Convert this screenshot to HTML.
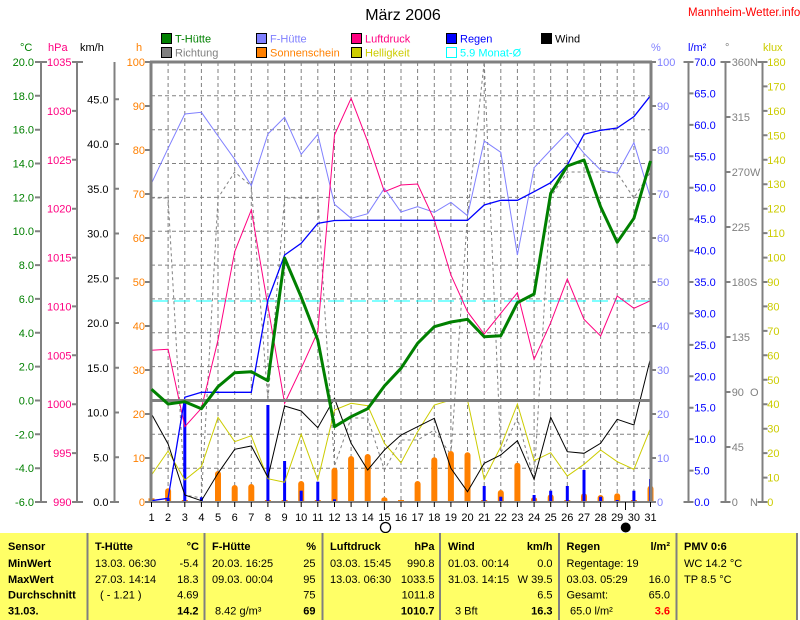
<!DOCTYPE html>
<html><head><meta charset="utf-8"><style>
html,body{margin:0;padding:0;background:#fff;}
svg{display:block;font-family:"Liberation Sans",sans-serif;}
</style></head><body>
<svg width="800" height="620" viewBox="0 0 800 620" xmlns="http://www.w3.org/2000/svg">
<rect x="0" y="0" width="800" height="620" fill="#fff"/>

<!-- Title -->
<text x="403" y="20" font-size="16" text-anchor="middle" fill="#000">März 2006</text>
<text x="688" y="16" font-size="11.5" fill="#ff0000">Mannheim-Wetter.info</text>

<!-- Legend -->
<g font-size="11">
<rect x="161.5" y="33.5" width="10" height="10" fill="#008000" stroke="#000"/>
<text x="175" y="42.5" fill="#008000">T-Hütte</text>
<rect x="256.5" y="33.5" width="10" height="10" fill="#8080ff" stroke="#000"/>
<text x="270" y="42.5" fill="#8080ff">F-Hütte</text>
<rect x="351.5" y="33.5" width="10" height="10" fill="#ff0080" stroke="#000"/>
<text x="365" y="42.5" fill="#ff0080">Luftdruck</text>
<rect x="446.5" y="33.5" width="10" height="10" fill="#0000ff" stroke="#000"/>
<text x="460" y="42.5" fill="#0000ff">Regen</text>
<rect x="541.5" y="33.5" width="10" height="10" fill="#000" stroke="#000"/>
<text x="555" y="42.5" fill="#000">Wind</text>
<rect x="161.5" y="47.5" width="10" height="10" fill="#808080" stroke="#000"/>
<text x="175" y="56.5" fill="#808080">Richtung</text>
<rect x="256.5" y="47.5" width="10" height="10" fill="#ff8000" stroke="#000"/>
<text x="270" y="56.5" fill="#ff8000">Sonnenschein</text>
<rect x="351.5" y="47.5" width="10" height="10" fill="#cccc00" stroke="#000"/>
<text x="365" y="56.5" fill="#cccc00">Helligkeit</text>
<rect x="446.5" y="47.5" width="10" height="10" fill="none" stroke="#00ffff"/>
<text x="460" y="56.5" fill="#00ffff">5.9 Monat-Ø</text>
</g>

<!-- Unit labels -->
<g font-size="11">
<text x="20" y="51" fill="#008000">°C</text>
<text x="48" y="51" fill="#ff0080">hPa</text>
<text x="80" y="51" fill="#000">km/h</text>
<text x="136" y="51" fill="#ff8000">h</text>
<text x="651" y="51" fill="#8080ff">%</text>
<text x="688" y="51" fill="#0000ff">l/m²</text>
<text x="725" y="51" fill="#808080">°</text>
<text x="763" y="51" fill="#cccc00">klux</text>
</g>

<!-- Grid -->
<g stroke="#808080" stroke-width="1" stroke-dasharray="4,3" fill="none">
<path d="M168.1 62V502M184.8 62V502M201.4 62V502M218 62V502M234.7 62V502M251.3 62V502M267.9 62V502M284.6 62V502M301.2 62V502M317.8 62V502M334.5 62V502M351.1 62V502M367.7 62V502M384.4 62V502M401 62V502M417.6 62V502M434.3 62V502M450.9 62V502M467.5 62V502M484.2 62V502M500.8 62V502M517.4 62V502M534.1 62V502M550.7 62V502M567.3 62V502M584 62V502M600.6 62V502M617.2 62V502M633.9 62V502"/>
<path d="M151 95.8H651M151 129.7H651M151 163.5H651M151 197.4H651M151 231.2H651M151 265.1H651M151 298.9H651M151 332.8H651M151 366.6H651M151 434.3H651M151 468.2H651"/>
</g>

<!-- Monat average line -->
<line x1="152" y1="301" x2="650" y2="301" stroke="#00ffff" stroke-width="1" stroke-dasharray="16,6"/>

<!-- Richtung -->
<polyline fill="none" stroke="#808080" stroke-width="1" stroke-dasharray="3,3" points="151.5,198 168.1,198 184.8,495 201.4,498 218,198 234.7,172 251.3,186 267.9,400 284.6,198 301.2,198 317.8,198 334.5,466 351.1,418 367.7,418 384.4,470 401,440 417.6,440 434.3,430 450.9,455 467.5,215 484.2,62 500.8,453 517.4,418 534.1,480 550.7,197 567.3,172 584,172 600.6,172 617.2,173 633.9,198 650.5,172"/>

<!-- Sonnenschein bars -->
<g fill="#ff8000">
<rect x="148.5" y="498.3" width="6" height="3.7"/>
<path d="M165.1 502V491.3A3 3 0 0 1 171.1 491.3V502Z"/>
<rect x="181.8" y="500" width="6" height="2"/>
<path d="M215 502V474A3 3 0 0 1 221 474V502Z"/>
<path d="M231.7 502V488A3 3 0 0 1 237.7 488V502Z"/>
<path d="M248.3 502V487A3 3 0 0 1 254.3 487V502Z"/>
<rect x="264.9" y="500" width="6" height="2"/>
<rect x="281.6" y="500" width="6" height="2"/>
<path d="M298.2 502V484A3 3 0 0 1 304.2 484V502Z"/>
<rect x="314.8" y="500" width="6" height="2"/>
<path d="M331.5 502V470.7A3 3 0 0 1 337.5 470.7V502Z"/>
<path d="M348.1 502V459A3 3 0 0 1 354.1 459V502Z"/>
<path d="M364.7 502V457A3 3 0 0 1 370.7 457V502Z"/>
<path d="M381.4 502V499.3A3 2 0 0 1 387.4 499.3V502Z"/>
<rect x="398" y="500" width="6" height="2"/>
<path d="M414.6 502V484A3 3 0 0 1 420.6 484V502Z"/>
<path d="M431.3 502V460.3A3 3 0 0 1 437.3 460.3V502Z"/>
<path d="M447.9 502V454A3 3 0 0 1 453.9 454V502Z"/>
<path d="M464.5 502V455.3A3 3 0 0 1 470.5 455.3V502Z"/>
<rect x="481.2" y="500" width="6" height="2"/>
<path d="M497.8 502V493A3 3 0 0 1 503.8 493V502Z"/>
<path d="M514.4 502V465.7A3 3 0 0 1 520.4 465.7V502Z"/>
<path d="M531.1 502V499.3A3 2 0 0 1 537.1 499.3V502Z"/>
<path d="M547.7 502V497.3A3 3 0 0 1 553.7 497.3V502Z"/>
<rect x="564.3" y="500" width="6" height="2"/>
<path d="M581 502V496.3A3 3 0 0 1 587 496.3V502Z"/>
<path d="M597.6 502V498A3 3 0 0 1 603.6 498V502Z"/>
<path d="M614.2 502V496.3A3 3 0 0 1 620.2 496.3V502Z"/>
<rect x="630.9" y="500" width="6" height="2"/>
<path d="M647.5 502V488.7A3 3 0 0 1 653.5 488.7V502Z"/>
</g>

<!-- Regen bars -->
<g fill="#0000ff">
<rect x="166.6" y="498" width="3" height="4"/>
<rect x="183.3" y="403.3" width="3" height="98.7"/>
<rect x="199.9" y="497.3" width="3" height="4.7"/>
<rect x="266.4" y="405" width="3" height="97"/>
<rect x="283.1" y="461" width="3" height="41"/>
<rect x="299.7" y="490.7" width="3" height="11.3"/>
<rect x="316.3" y="481.7" width="3" height="20.3"/>
<rect x="333" y="499.3" width="3" height="2.7"/>
<rect x="482.7" y="486" width="3" height="16"/>
<rect x="499.3" y="496.7" width="3" height="5.3"/>
<rect x="532.6" y="495" width="3" height="7"/>
<rect x="549.2" y="490.7" width="3" height="11.3"/>
<rect x="565.8" y="486" width="3" height="16"/>
<rect x="582.5" y="470" width="3" height="32"/>
<rect x="599.1" y="496.7" width="3" height="5.3"/>
<rect x="615.7" y="500" width="3" height="2"/>
<rect x="632.4" y="490.7" width="3" height="11.3"/>
<rect x="649" y="479" width="3" height="23"/>
</g>

<!-- Helligkeit -->
<polyline fill="none" stroke="#cccc00" stroke-width="1" points="151.5,475 168.1,451 184.8,480 201.4,466.7 218,417.3 234.7,441.7 251.3,435.7 267.9,478.7 284.6,482.3 301.2,434.3 317.8,480 334.5,410 351.1,403.3 367.7,405.7 384.4,443.3 401,462.7 417.6,431.7 434.3,405 450.9,400 467.5,400 484.2,479.3 500.8,446.7 517.4,404 534.1,460.7 550.7,452.7 567.3,476 584,464.3 600.6,450 617.2,461.7 633.9,469.3 650.5,428.3"/>

<!-- Wind -->
<polyline fill="none" stroke="#000" stroke-width="1" points="151.5,414 168.1,444 184.8,495 201.4,500.7 218,473.3 234.7,449.3 251.3,446 267.9,477.3 284.6,406 301.2,411 317.8,427.7 334.5,398.3 351.1,443.3 367.7,470 384.4,450 401,435 417.6,426.7 434.3,418.3 450.9,468.3 467.5,491.7 484.2,463.3 500.8,455 517.4,440.7 534.1,479.3 550.7,417.3 567.3,451.7 584,453.3 600.6,443.3 617.2,419.3 633.9,425 650.5,358.3"/>

<!-- F-Hütte -->
<polyline fill="none" stroke="#8080ff" stroke-width="1" points="151.5,183.3 168.1,148.3 184.8,114 201.4,112.3 218,136 234.7,159.3 251.3,185.7 267.9,134 284.6,117.3 301.2,154.3 317.8,134.3 334.5,204.3 351.1,218.3 367.7,213.7 384.4,188.3 401,212 417.6,206.7 434.3,212.3 450.9,202.3 467.5,215.7 484.2,141 500.8,152.3 517.4,255 534.1,167.7 550.7,150 567.3,132.7 584,153.3 600.6,170 617.2,173.3 633.9,142.7 650.5,197.7"/>

<!-- Luftdruck -->
<polyline fill="none" stroke="#ff0080" stroke-width="1" points="151.5,350.3 168.1,349.3 184.8,426.7 201.4,408.3 218,340 234.7,251.7 251.3,210 267.9,306 284.6,403.3 301.2,368.3 317.8,331.7 334.5,135 351.1,98.3 367.7,141.7 384.4,191.7 401,185 417.6,184 434.3,220 450.9,275 467.5,311.7 484.2,334 500.8,313.3 517.4,292.7 534.1,359.3 550.7,322.7 567.3,279 584,319.3 600.6,336 617.2,296 633.9,308.3 650.5,300.7"/>

<!-- Regen cumulative -->
<polyline fill="none" stroke="#0000ff" stroke-width="1.3" points="151.5,500.7 168.1,498.3 184.8,397.3 201.4,392.3 218,392.3 234.7,392.3 251.3,392.3 267.9,300 284.6,255 301.2,243.3 317.8,223.3 334.5,220.5 351.1,220.3 367.7,220.3 384.4,220.3 401,220.3 417.6,220.3 434.3,220.3 450.9,220.3 467.5,220.3 484.2,205 500.8,200.3 517.4,200.3 534.1,191.7 550.7,182.7 567.3,165 584,134.3 600.6,130.3 617.2,128 633.9,116.7 650.5,95.7"/>

<!-- Plot frame -->
<g stroke="#808080" fill="none">
<path d="M151 61V503" stroke-width="3"/>
<path d="M651 61V503" stroke-width="3"/>
<path d="M150 62H652" stroke-width="3"/>
<path d="M151 400.5H651" stroke-width="3"/>
<path d="M151 502H651" stroke-width="2"/>
</g>

<!-- T-Hütte -->
<polyline fill="none" stroke="#008000" stroke-width="3" stroke-linejoin="round" points="151.5,389.3 168.1,404 184.8,401.7 201.4,408.7 218,386.7 234.7,372.7 251.3,371.7 267.9,380.7 284.6,258 301.2,297 317.8,340 334.5,426.7 351.1,416.7 367.7,408.7 384.4,386 401,368.3 417.6,343.3 434.3,326.7 450.9,322 467.5,319.3 484.2,336.7 500.8,335.7 517.4,302.7 534.1,294 550.7,193.3 567.3,166 584,160 600.6,206.7 617.2,242.3 633.9,218.3 650.5,161"/>

<!-- Axes -->
<g stroke="#808080" stroke-width="2" fill="none">
<path d="M41 62V502M35 62H47M35 95.8H41M35 129.7H41M35 163.5H41M35 197.4H41M35 231.2H41M35 265.1H41M35 298.9H41M35 332.8H41M35 366.6H41M35 400.5H41M35 434.3H41M35 468.2H41M35 502H47"/>
<path d="M77 62V502M72 62H83M72 110.9H77M72 159.8H77M72 208.7H77M72 257.6H77M72 306.4H77M72 355.3H77M72 404.2H77M72 453.1H77M72 502H83"/>
<path d="M114.5 62V502M110 502H119M114.5 457.3H119M114.5 412.5H119M114.5 367.8H119M114.5 323H119M114.5 278.3H119M114.5 233.5H119M114.5 188.8H119M114.5 144H119M114.5 99.3H119"/>
<path d="M145 62H151M145 106H151M145 150H151M145 194H151M145 238H151M145 282H151M145 326H151M145 370H151M145 414H151M145 458H151M145 502H151"/>
<path d="M651 62H656M651 106H656M651 150H656M651 194H656M651 238H656M651 282H656M651 326H656M651 370H656M651 414H656M651 458H656M651 502H656"/>
<path d="M688.5 62V502M683.5 62H693.5M688.5 93.4H693.5M688.5 124.9H693.5M688.5 156.3H693.5M688.5 187.7H693.5M688.5 219.1H693.5M688.5 250.6H693.5M688.5 282H693.5M688.5 313.4H693.5M688.5 344.9H693.5M688.5 376.3H693.5M688.5 407.7H693.5M688.5 439.1H693.5M688.5 470.6H693.5M683.5 502H693.5"/>
<path d="M725.5 62V502M720.5 62H730.5M725.5 117H730.5M725.5 172H730.5M725.5 227H730.5M725.5 282H730.5M725.5 337H730.5M725.5 392H730.5M725.5 447H730.5M720.5 502H730.5"/>
<path d="M762.5 62V502M757.5 62H767.5M762.5 86.4H767.5M762.5 110.9H767.5M762.5 135.3H767.5M762.5 159.8H767.5M762.5 184.2H767.5M762.5 208.7H767.5M762.5 233.1H767.5M762.5 257.6H767.5M762.5 282H767.5M762.5 306.4H767.5M762.5 330.9H767.5M762.5 355.3H767.5M762.5 379.8H767.5M762.5 404.2H767.5M762.5 428.7H767.5M762.5 453.1H767.5M762.5 477.6H767.5M757.5 502H767.5"/>
</g>

<!-- Day ticks -->
<g stroke="#000" stroke-width="1">
<path d="M151.5 502V507M168.1 502V507M184.8 502V507M201.4 502V507M218 502V507M234.7 502V507M251.3 502V507M267.9 502V507M284.6 502V507M301.2 502V507M317.8 502V507M334.5 502V507M351.1 502V507M367.7 502V507M384.4 502V510M401 502V507M417.6 502V507M434.3 502V507M450.9 502V507M467.5 502V507M484.2 502V507M500.8 502V507M517.4 502V507M534.1 502V507M550.7 502V507M567.3 502V507M584 502V507M600.6 502V507M617.2 502V507M625.5 502V510M633.9 502V507M650.5 502V507"/>
</g>

<!-- Left tick labels -->
<g font-size="11" text-anchor="end">
<g fill="#008000">
<text x="34" y="66">20.0</text><text x="34" y="99.8">18.0</text><text x="34" y="133.7">16.0</text><text x="34" y="167.5">14.0</text><text x="34" y="201.4">12.0</text><text x="34" y="235.2">10.0</text><text x="34" y="269.1">8.0</text><text x="34" y="302.9">6.0</text><text x="34" y="336.8">4.0</text><text x="34" y="370.6">2.0</text><text x="34" y="404.5">0.0</text><text x="34" y="438.3">-2.0</text><text x="34" y="472.2">-4.0</text><text x="34" y="506">-6.0</text>
</g>
<g fill="#ff0080">
<text x="71.5" y="66">1035</text><text x="71.5" y="114.9">1030</text><text x="71.5" y="163.8">1025</text><text x="71.5" y="212.7">1020</text><text x="71.5" y="261.6">1015</text><text x="71.5" y="310.4">1010</text><text x="71.5" y="359.3">1005</text><text x="71.5" y="408.2">1000</text><text x="71.5" y="457.1">995</text><text x="71.5" y="506">990</text>
</g>
<g fill="#000">
<text x="108.5" y="103.3">45.0</text><text x="108.5" y="148">40.0</text><text x="108.5" y="192.8">35.0</text><text x="108.5" y="237.5">30.0</text><text x="108.5" y="282.3">25.0</text><text x="108.5" y="327">20.0</text><text x="108.5" y="371.8">15.0</text><text x="108.5" y="416.5">10.0</text><text x="108.5" y="461.3">5.0</text><text x="108.5" y="506">0.0</text>
</g>
<g fill="#ff8000">
<text x="145" y="66">100</text><text x="145" y="110">90</text><text x="145" y="154">80</text><text x="145" y="198">70</text><text x="145" y="242">60</text><text x="145" y="286">50</text><text x="145" y="330">40</text><text x="145" y="374">30</text><text x="145" y="418">20</text><text x="145" y="462">10</text><text x="145" y="506">0</text>
</g>
</g>

<!-- Right tick labels -->
<g font-size="11">
<g fill="#8080ff">
<text x="657" y="66">100</text><text x="657" y="110">90</text><text x="657" y="154">80</text><text x="657" y="198">70</text><text x="657" y="242">60</text><text x="657" y="286">50</text><text x="657" y="330">40</text><text x="657" y="374">30</text><text x="657" y="418">20</text><text x="657" y="462">10</text><text x="657" y="506">0</text>
</g>
<g fill="#0000ff">
<text x="694.3" y="66">70.0</text><text x="694.3" y="97.4">65.0</text><text x="694.3" y="128.9">60.0</text><text x="694.3" y="160.3">55.0</text><text x="694.3" y="191.7">50.0</text><text x="694.3" y="223.1">45.0</text><text x="694.3" y="254.6">40.0</text><text x="694.3" y="286">35.0</text><text x="694.3" y="317.4">30.0</text><text x="694.3" y="348.9">25.0</text><text x="694.3" y="380.3">20.0</text><text x="694.3" y="411.7">15.0</text><text x="694.3" y="443.1">10.0</text><text x="694.3" y="474.6">5.0</text><text x="694.3" y="506">0.0</text>
</g>
<g fill="#808080">
<text x="731.7" y="66">360</text><text x="731.7" y="121">315</text><text x="731.7" y="176">270</text><text x="731.7" y="231">225</text><text x="731.7" y="286">180</text><text x="731.7" y="341">135</text><text x="731.7" y="396">90</text><text x="731.7" y="451">45</text><text x="731.7" y="506">0</text>
<text x="750" y="66">N</text><text x="750" y="176">W</text><text x="750" y="286">S</text><text x="750" y="396">O</text><text x="750" y="506">N</text>
</g>
<g fill="#cccc00">
<text x="767.3" y="66">180</text><text x="767.3" y="90.4">170</text><text x="767.3" y="114.9">160</text><text x="767.3" y="139.3">150</text><text x="767.3" y="163.8">140</text><text x="767.3" y="188.2">130</text><text x="767.3" y="212.7">120</text><text x="767.3" y="237.1">110</text><text x="767.3" y="261.6">100</text><text x="767.3" y="286">90</text><text x="767.3" y="310.4">80</text><text x="767.3" y="334.9">70</text><text x="767.3" y="359.3">60</text><text x="767.3" y="383.8">50</text><text x="767.3" y="408.2">40</text><text x="767.3" y="432.7">30</text><text x="767.3" y="457.1">20</text><text x="767.3" y="481.6">10</text><text x="767.3" y="506">0</text>
</g>
</g>

<!-- Day labels -->
<g font-size="11" text-anchor="middle" fill="#000">
<text x="151.5" y="521">1</text><text x="168.1" y="521">2</text><text x="184.8" y="521">3</text><text x="201.4" y="521">4</text><text x="218" y="521">5</text><text x="234.7" y="521">6</text><text x="251.3" y="521">7</text><text x="267.9" y="521">8</text><text x="284.6" y="521">9</text><text x="301.2" y="521">10</text><text x="317.8" y="521">11</text><text x="334.5" y="521">12</text><text x="351.1" y="521">13</text><text x="367.7" y="521">14</text><text x="384.4" y="521">15</text><text x="401" y="521">16</text><text x="417.6" y="521">17</text><text x="434.3" y="521">18</text><text x="450.9" y="521">19</text><text x="467.5" y="521">20</text><text x="484.2" y="521">21</text><text x="500.8" y="521">22</text><text x="517.4" y="521">23</text><text x="534.1" y="521">24</text><text x="550.7" y="521">25</text><text x="567.3" y="521">26</text><text x="584" y="521">27</text><text x="600.6" y="521">28</text><text x="617.2" y="521">29</text><text x="633.9" y="521">30</text><text x="650.5" y="521">31</text>
</g>

<!-- Moon phases -->
<circle cx="385.5" cy="527.5" r="5" fill="none" stroke="#000" stroke-width="1.3"/>
<circle cx="625.7" cy="527.5" r="5" fill="#000"/>

<!-- Table -->
<rect x="0" y="533" width="797" height="87" fill="#ffff66"/>
<g stroke="#808080" stroke-width="2">
<path d="M87.5 533V620M204.5 533V620M322.5 533V620M440 533V620M559 533V620M676.5 533V620M797 533V620"/>
</g>
<g font-size="11" fill="#000">
<g font-weight="bold">
<text x="8" y="550">Sensor</text>
<text x="8" y="567">MinWert</text>
<text x="8" y="583">MaxWert</text>
<text x="8" y="598.5">Durchschnitt</text>
<text x="8" y="614.5">31.03.</text>
<text x="95" y="550">T-Hütte</text>
<text x="199" y="550" text-anchor="end">°C</text>
<text x="212" y="550">F-Hütte</text>
<text x="316" y="550" text-anchor="end">%</text>
<text x="330" y="550">Luftdruck</text>
<text x="434.5" y="550" text-anchor="end">hPa</text>
<text x="448" y="550">Wind</text>
<text x="552.5" y="550" text-anchor="end">km/h</text>
<text x="566.5" y="550">Regen</text>
<text x="670" y="550" text-anchor="end">l/m²</text>
<text x="684" y="550">PMV 0:6</text>
<text x="198.5" y="614.5" text-anchor="end">14.2</text>
<text x="315.5" y="614.5" text-anchor="end">69</text>
<text x="434.5" y="614.5" text-anchor="end">1010.7</text>
<text x="552.5" y="614.5" text-anchor="end">16.3</text>
<text x="670" y="614.5" text-anchor="end" fill="#ff0000">3.6</text>
</g>
<text x="95" y="567">13.03.  06:30</text>
<text x="198.5" y="567" text-anchor="end">-5.4</text>
<text x="95" y="583">27.03.  14:14</text>
<text x="198.5" y="583" text-anchor="end">18.3</text>
<text x="100" y="598.5">( - 1.21 )</text>
<text x="198.5" y="598.5" text-anchor="end">4.69</text>
<text x="212" y="567">20.03.  16:25</text>
<text x="315.5" y="567" text-anchor="end">25</text>
<text x="212" y="583">09.03.  00:04</text>
<text x="315.5" y="583" text-anchor="end">95</text>
<text x="315.5" y="598.5" text-anchor="end">75</text>
<text x="215" y="614.5">8.42 g/m³</text>
<text x="330" y="567">03.03.  15:45</text>
<text x="434.5" y="567" text-anchor="end">990.8</text>
<text x="330" y="583">13.03.  06:30</text>
<text x="434.5" y="583" text-anchor="end">1033.5</text>
<text x="434.5" y="598.5" text-anchor="end">1011.8</text>
<text x="448" y="567">01.03.  00:14</text>
<text x="552.5" y="567" text-anchor="end">0.0</text>
<text x="448" y="583">31.03.  14:15</text>
<text x="552.5" y="583" text-anchor="end">W 39.5</text>
<text x="552.5" y="598.5" text-anchor="end">6.5</text>
<text x="455" y="614.5">3 Bft</text>
<text x="566.5" y="567">Regentage: 19</text>
<text x="566.5" y="583">03.03.  05:29</text>
<text x="670" y="583" text-anchor="end">16.0</text>
<text x="566.5" y="598.5">Gesamt:</text>
<text x="670" y="598.5" text-anchor="end">65.0</text>
<text x="570" y="614.5">65.0 l/m²</text>
<text x="684" y="567">WC 14.2 °C</text>
<text x="684" y="583">TP 8.5 °C</text>
</g>
</svg>
</body></html>
